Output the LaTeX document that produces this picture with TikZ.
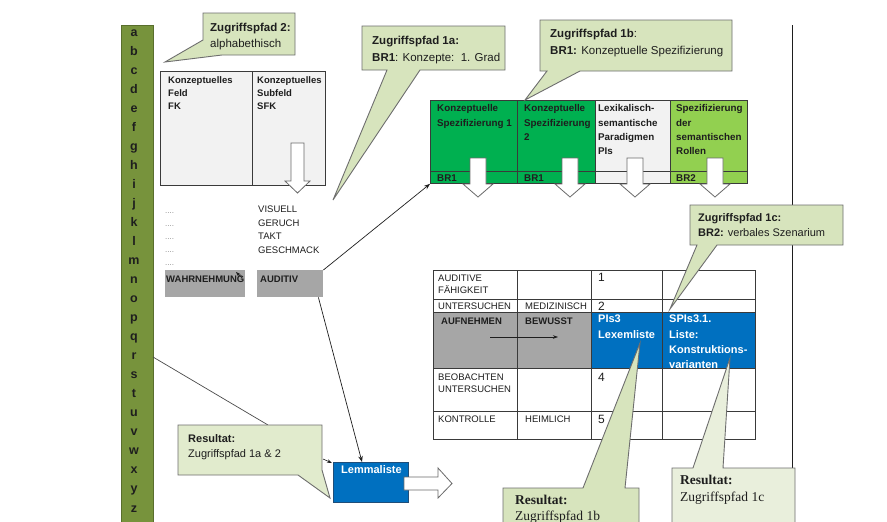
\documentclass[tikz,border=0pt]{standalone}
\usepackage{fontspec}
\setmainfont{Liberation Sans}
\newfontfamily\resserif{Liberation Serif}
\usetikzlibrary{arrows.meta,calc}
\definecolor{barolive}{HTML}{77933C}
\definecolor{callfill}{HTML}{D7E4BD}
\definecolor{callfillb}{HTML}{E9EFDC}
\definecolor{callline}{HTML}{6E6E6E}
\definecolor{greenA}{HTML}{00B050}
\definecolor{greenB}{HTML}{92D050}
\definecolor{palegray}{HTML}{F2F2F2}
\definecolor{midgray}{HTML}{A6A6A6}
\definecolor{blueL}{HTML}{0070C0}
\definecolor{blueD}{HTML}{1F4E79}
\definecolor{gridline}{HTML}{3A3A3A}
\definecolor{ink}{HTML}{1E1E1E}
\definecolor{dotgray}{HTML}{8A8A8A}
\definecolor{arrowgray}{HTML}{6A6A6A}
\begin{document}
\begin{tikzpicture}[x=1pt,y=-1pt,
  tx/.style={inner sep=0pt,anchor=north west,align=left,text=ink},
  bl/.style={inner sep=0pt,anchor=base west,text=ink},
  bx/.style={inner sep=0pt,anchor=north west},
  gcell/.style={draw=gridline,line width=0.9pt,minimum height=83pt},
  hollow/.style={draw=arrowgray,fill=white,line width=0.8pt,line join=miter},
  callout/.style={draw=callline,fill=callfill,line width=0.9pt,line join=miter},
  con/.style={draw=ink,line width=0.7pt,-{Stealth[length=6pt,width=4.5pt]}},
  conthin/.style={draw=ink,line width=0.6pt,-{Stealth[length=5pt,width=3.5pt]}},
  tabf/.style={font=\fontsize{9.5}{12}\selectfont},
  tabb/.style={font=\fontsize{9.5}{12}\selectfont\bfseries},
  numf/.style={font=\fontsize{12}{12}\selectfont},
  grf/.style={font=\fontsize{9.8}{14.3}\selectfont\bfseries},
  whf/.style={font=\fontsize{11}{15.2}\selectfont\bfseries,text=white},
]
\useasboundingbox (0,0) rectangle (887,522);
\fill[white] (0,0) rectangle (887,522);

% alphabet bar
\node[bx,fill=barolive,draw=barolive!75!black,line width=0.6pt,minimum width=32pt,minimum height=505pt] (bar) at (121,25) {};
\foreach \l [count=\i from 0] in {a,b,c,d,e,f,g,h,i,j,k,l,m,n,o,p,q,r,s,t,u,v,w,x,y,z}
  \node[inner sep=0pt,anchor=base,text=ink,font=\fontsize{12.5}{12.5}\selectfont\bfseries] (let\l) at (134,{36+19.04*\i}) {\l};

% right vertical line
\coordinate (vtop) at (792,25);
\coordinate (vbot) at (792,468);
\draw[ink,line width=1pt] (vtop) -- (vbot);

% left box
\node[bx,draw=gridline,fill=palegray,line width=0.8pt,minimum width=92pt,minimum height=114pt] (kf) at (160,71) {};
\node[bx,draw=gridline,fill=palegray,line width=0.8pt,minimum width=73pt,minimum height=114pt] (sfk) at (252,71) {};
\node[tx,font=\fontsize{9.5}{13}\selectfont\bfseries] (kft) at (168,76.5) {Konzeptuelles\\Feld\\FK};
\node[tx,font=\fontsize{9.5}{13}\selectfont\bfseries] (sfkt) at (257,76.5) {Konzeptuelles\\Subfeld\\SFK};
\draw[hollow] (291,143) -- (304,143) -- (304,181) -- (310,181) -- (297.5,193) -- (285,181) -- (291,181) -- cycle;

% list
\foreach \yy [count=\k] in {213,226,239,252,265}
  \node[inner sep=0pt,anchor=base west,text=dotgray,font=\fontsize{8}{8}\selectfont] (dot\k) at (165,\yy) {....};
\node[tx,font=\fontsize{9.5}{13.7}\selectfont] (items) at (258,205.5) {VISUELL\\GERUCH\\TAKT\\GESCHMACK};
\node[bx,fill=midgray,minimum width=80pt,minimum height=27pt] (wahr) at (165,270) {};
\node[bx,fill=midgray,minimum width=66pt,minimum height=27pt] (aud) at (257,270) {};
\node[bl,tabb] (wahrt) at (166,282.5) {WAHRNEHMUNG};
\node[bl,tabb] (audt) at (260,282.5) {AUDITIV};
\coordinate (wa1) at (242,278);
\coordinate (wa2) at (236,272);
\draw[conthin] (wa1) -- (wa2);

% green table
\node[bx,gcell,fill=greenA,minimum width=87pt] (gt1) at (430,100) {};
\node[bx,gcell,fill=greenA,minimum width=78pt] (gt2) at (517,100) {};
\node[bx,gcell,fill=palegray,minimum width=75pt] (gt3) at (595,100) {};
\node[bx,gcell,fill=greenB,minimum width=77pt] (gt4) at (670,100) {};
\draw[gridline,line width=0.9pt] ($(gt1.south west)+(0,-12)$) -- ($(gt4.south east)+(0,-12)$);
\node[tx,grf] (g1t) at (437,104.5) {Konzeptuelle\\Spezifizierung 1};
\node[tx,grf] (g2t) at (524,104.5) {Konzeptuelle\\Spezifizierung\\2};
\node[tx,grf] (g3t) at (598,104.5) {Lexikalisch-\\semantische\\Paradigmen\\PIs};
\node[tx,grf] (g4t) at (676,104.5) {Spezifizierung\\der\\semantischen\\Rollen};
\node[bl,grf] (br1a) at (437,181.5) {BR1};
\node[bl,grf] (br1b) at (524,181.5) {BR1};
\node[bl,grf] (br2) at (676,181.5) {BR2};
\foreach \cx in {478,570,635,715}
  \draw[hollow] ({\cx-8},158) -- ({\cx+8},158) -- ({\cx+8},184) -- ({\cx+15},184) -- (\cx,197) -- ({\cx-15},184) -- ({\cx-8},184) -- cycle;

% lower table
\fill[midgray] (433,312) rectangle (591,368);
\fill[blueL] (591,312) rectangle (755,368);
\draw[gridline,line width=0.9pt] (433,270) rectangle (755,439);
\foreach \yy in {299,312,368,411} \draw[gridline,line width=0.9pt] (433,\yy) -- (755,\yy);
\foreach \xx in {517,591,662} \draw[gridline,line width=0.9pt] (\xx,270) -- (\xx,439);
\node[tx,tabf] (c11) at (438,274.5) {AUDITIVE\\FÄHIGKEIT};
\node[bl,numf] (c13) at (598,281.3) {1};
\node[bl,tabf] (c21) at (438,309.4) {UNTERSUCHEN};
\node[bl,tabf] (c22) at (525,309.4) {MEDIZINISCH};
\node[bl,numf] (c23) at (598,310.3) {2};
\node[bl,tabb] (c31) at (441,324.4) {AUFNEHMEN};
\node[bl,tabb] (c32) at (525,324.4) {BEWUSST};
\node[tx,whf] (c33) at (598,315) {PIs3\\Lexemliste};
\node[tx,whf] (c34) at (669,315) {SPIs3.1.\\Liste:\\Konstruktions-\\varianten};
\coordinate (rowA) at (490,337);
\coordinate (rowB) at (558,337);
\draw[conthin] (rowA) -- (rowB);
\node[tx,tabf] (c41) at (438,373.5) {BEOBACHTEN\\UNTERSUCHEN};
\node[bl,numf] (c43) at (598,381.3) {4};
\node[bl,tabf] (c51) at (438,422.4) {KONTROLLE};
\node[bl,tabf] (c52) at (525,422.4) {HEIMLICH};
\node[bl,numf] (c53) at (598,423.3) {5};

% Lemmaliste
\node[bx,fill=blueL,draw=blueD,line width=0.6pt,minimum width=75pt,minimum height=40pt] (lemma) at (333,462) {};
\node[tx,font=\fontsize{11}{13}\selectfont\bfseries,text=white] (lemmat) at (341,465) {Lemmaliste};
\draw[hollow] (404,477) -- (438,477) -- (438,468) -- (452,483.5) -- (438,498) -- (438,490) -- (404,490) -- cycle;

% connectors
\draw[con] (aud.north east) -- (gt1.south west);
\draw[con] ($(aud.south east)+(-5,0)$) -- ($(lemma.north west)+(29,0)$);
\coordinate (barpt) at (153,357);
\coordinate (r12top) at (268,425);
\coordinate (r12right) at (323,459);
\draw[ink!80,line width=0.7pt] (barpt) -- (r12top);
\draw[conthin] (r12right) -- ($(lemma.north west)+(-1,1)$);

% callouts
\draw[callout] (203,13) -- (295,13) -- (295,55) -- (222,55) -- (165,62) -- (203,40) -- cycle;
\node[tx,font=\fontsize{11.5}{16}\selectfont] (c2t) at (210,22.5) {\textbf{Zugriffspfad 2:}\\alphabethisch};

\draw[callout] (362,26) -- (505,26) -- (505,70) -- (420,70) -- (333,200) -- (387,70) -- (362,70) -- cycle;
\node[tx,font=\fontsize{11.5}{17.5}\selectfont] (c1at) at (372,35.5) {\textbf{Zugriffspfad 1a:}\\\textbf{BR1}: Konzepte:\ \ 1. Grad};

\draw[callout] (540,20) -- (732,20) -- (732,71) -- (580,71) -- (525,100) -- (547,71) -- (540,71) -- cycle;
\node[tx,font=\fontsize{11.5}{17}\selectfont] (c1bt) at (550,28.5) {\textbf{Zugriffspfad 1b}:\\\textbf{BR1:} Konzeptuelle Spezifizierung};

\draw[callout] (690,205) -- (843,205) -- (843,245) -- (717,245) -- (670,309) -- (697,245) -- (690,245) -- cycle;
\node[tx,font=\fontsize{11}{14.5}\selectfont] (c1ct) at (698,213.5) {\textbf{Zugriffspfad 1c:}\\\textbf{BR2:} verbales Szenarium};

\draw[callout,fill=callfill!75!white] (178,425) -- (322,425) -- (322,470) -- (330,498) -- (298,475) -- (178,475) -- cycle;
\node[tx,font=\fontsize{11}{15.5}\selectfont] (r12t) at (188,434) {\textbf{Resultat:}\\Zugriffspfad 1a \& 2};

\draw[callout] (503,488) -- (583,488) -- (640,343) -- (625,488) -- (639,488) -- (639,530) -- (503,530) -- cycle;
\node[tx,font=\fontsize{13.5}{15.5}\resserif\selectfont] (r1bt) at (515,495.3) {\textbf{Resultat:}\\Zugriffspfad 1b};

\draw[callout,fill=callfillb] (672,468) -- (693,468) -- (730,358) -- (723,468) -- (795,468) -- (795,530) -- (672,530) -- cycle;
\node[tx,font=\fontsize{13.5}{16.5}\resserif\selectfont] (r1ct) at (680,475.3) {\textbf{Resultat:}\\Zugriffspfad 1c};
\end{tikzpicture}
\end{document}
